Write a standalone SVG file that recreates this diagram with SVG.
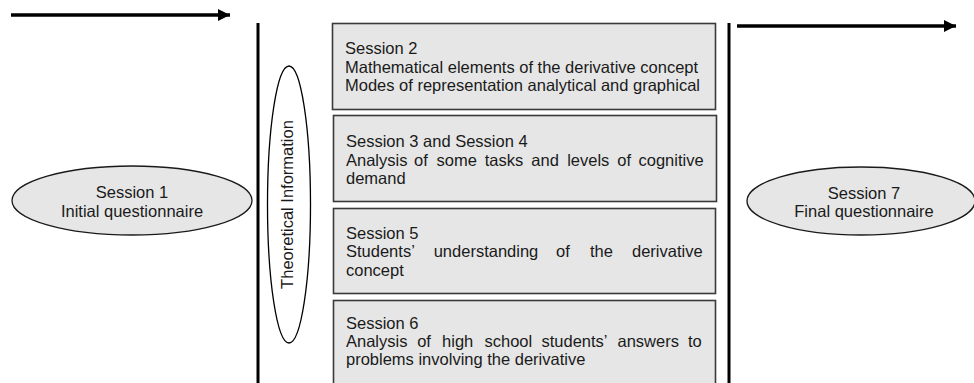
<svg xmlns="http://www.w3.org/2000/svg" width="974" height="383" viewBox="0 0 974 383">
<style>
text{font-family:"Liberation Sans",Arial,sans-serif;font-size:16.5px;fill:#1a1a1a}
.box{fill:#e6e6e6;stroke:#3a3a3a;stroke-width:1.6}
.ell{fill:#e6e6e6;stroke:#1a1a1a;stroke-width:1.3}
.bar{stroke:#000;stroke-width:3;fill:none}
.arr{stroke:#000;stroke-width:3.5;fill:none;marker-end:url(#ah)}
.mid{text-anchor:middle}
</style>
<defs>
<marker id="ah" markerUnits="userSpaceOnUse" markerWidth="14" markerHeight="14" refX="12" refY="6" orient="auto">
<path d="M0,0 L12,6 L0,12 z" fill="#000"/>
</marker>
</defs>
<g id="connectors">
<line class="arr" x1="11" y1="15" x2="230" y2="15"/>
<line class="arr" x1="737" y1="26" x2="956" y2="26"/>
<line class="bar" x1="258" y1="23" x2="258" y2="383"/>
<line class="bar" x1="729" y1="23" x2="729" y2="383"/>
</g>
<g id="session1">
<ellipse class="ell" cx="132" cy="200.5" rx="120" ry="34.5"/>
<text class="mid" x="132" y="197.5">Session 1</text>
<text class="mid" x="132" y="216.5">Initial questionnaire</text>
</g>
<g id="theory">
<ellipse cx="289" cy="204.5" rx="21.5" ry="138.5" fill="#fff" stroke="#000" stroke-width="1.3"/>
<text class="mid" transform="translate(293,204.5) rotate(-90)">Theoretical  Information</text>
</g>
<g id="session2">
<rect class="box" x="332.5" y="23.5" width="383" height="86"/>
<text x="345" y="54">Session 2</text>
<text x="345" y="72.5">Mathematical elements of the derivative concept</text>
<text x="345" y="91">Modes of representation analytical and graphical</text>
</g>
<g id="session34">
<rect class="box" x="333.5" y="115.5" width="383" height="86"/>
<text x="346" y="147">Session 3 and Session 4</text>
<text y="165.5"><tspan x="346">Analysis</tspan><tspan x="414">of</tspan><tspan x="436.5">some</tspan><tspan x="484.7">tasks</tspan><tspan x="531.3">and</tspan><tspan x="567.2">levels</tspan><tspan x="617.3">of</tspan><tspan x="638.5">cognitive</tspan></text>
<text x="346" y="184">demand</text>
</g>
<g id="session5">
<rect class="box" x="333.5" y="208.5" width="382" height="85"/>
<text x="346" y="238.5">Session 5</text>
<text y="257"><tspan x="346">Students’</tspan><tspan x="433.7">understanding</tspan><tspan x="556.1">of</tspan><tspan x="590">the</tspan><tspan x="632">derivative</tspan></text>
<text x="346" y="275.5">concept</text>
</g>
<g id="session6">
<rect class="box" x="333.5" y="300.5" width="382" height="90"/>
<text x="346" y="328.5">Session 6</text>
<text y="347"><tspan x="346">Analysis</tspan><tspan x="417.2">of</tspan><tspan x="442.1">high</tspan><tspan x="484.5">school</tspan><tspan x="541.5">students’</tspan><tspan x="617.5">answers</tspan><tspan x="688">to</tspan></text>
<text x="346" y="365">problems involving the derivative</text>
</g>
<g id="session7">
<ellipse class="ell" cx="861" cy="201" rx="114" ry="34"/>
<text class="mid" x="864" y="198.5">Session 7</text>
<text class="mid" x="864" y="217">Final questionnaire</text>
</g>
</svg>
